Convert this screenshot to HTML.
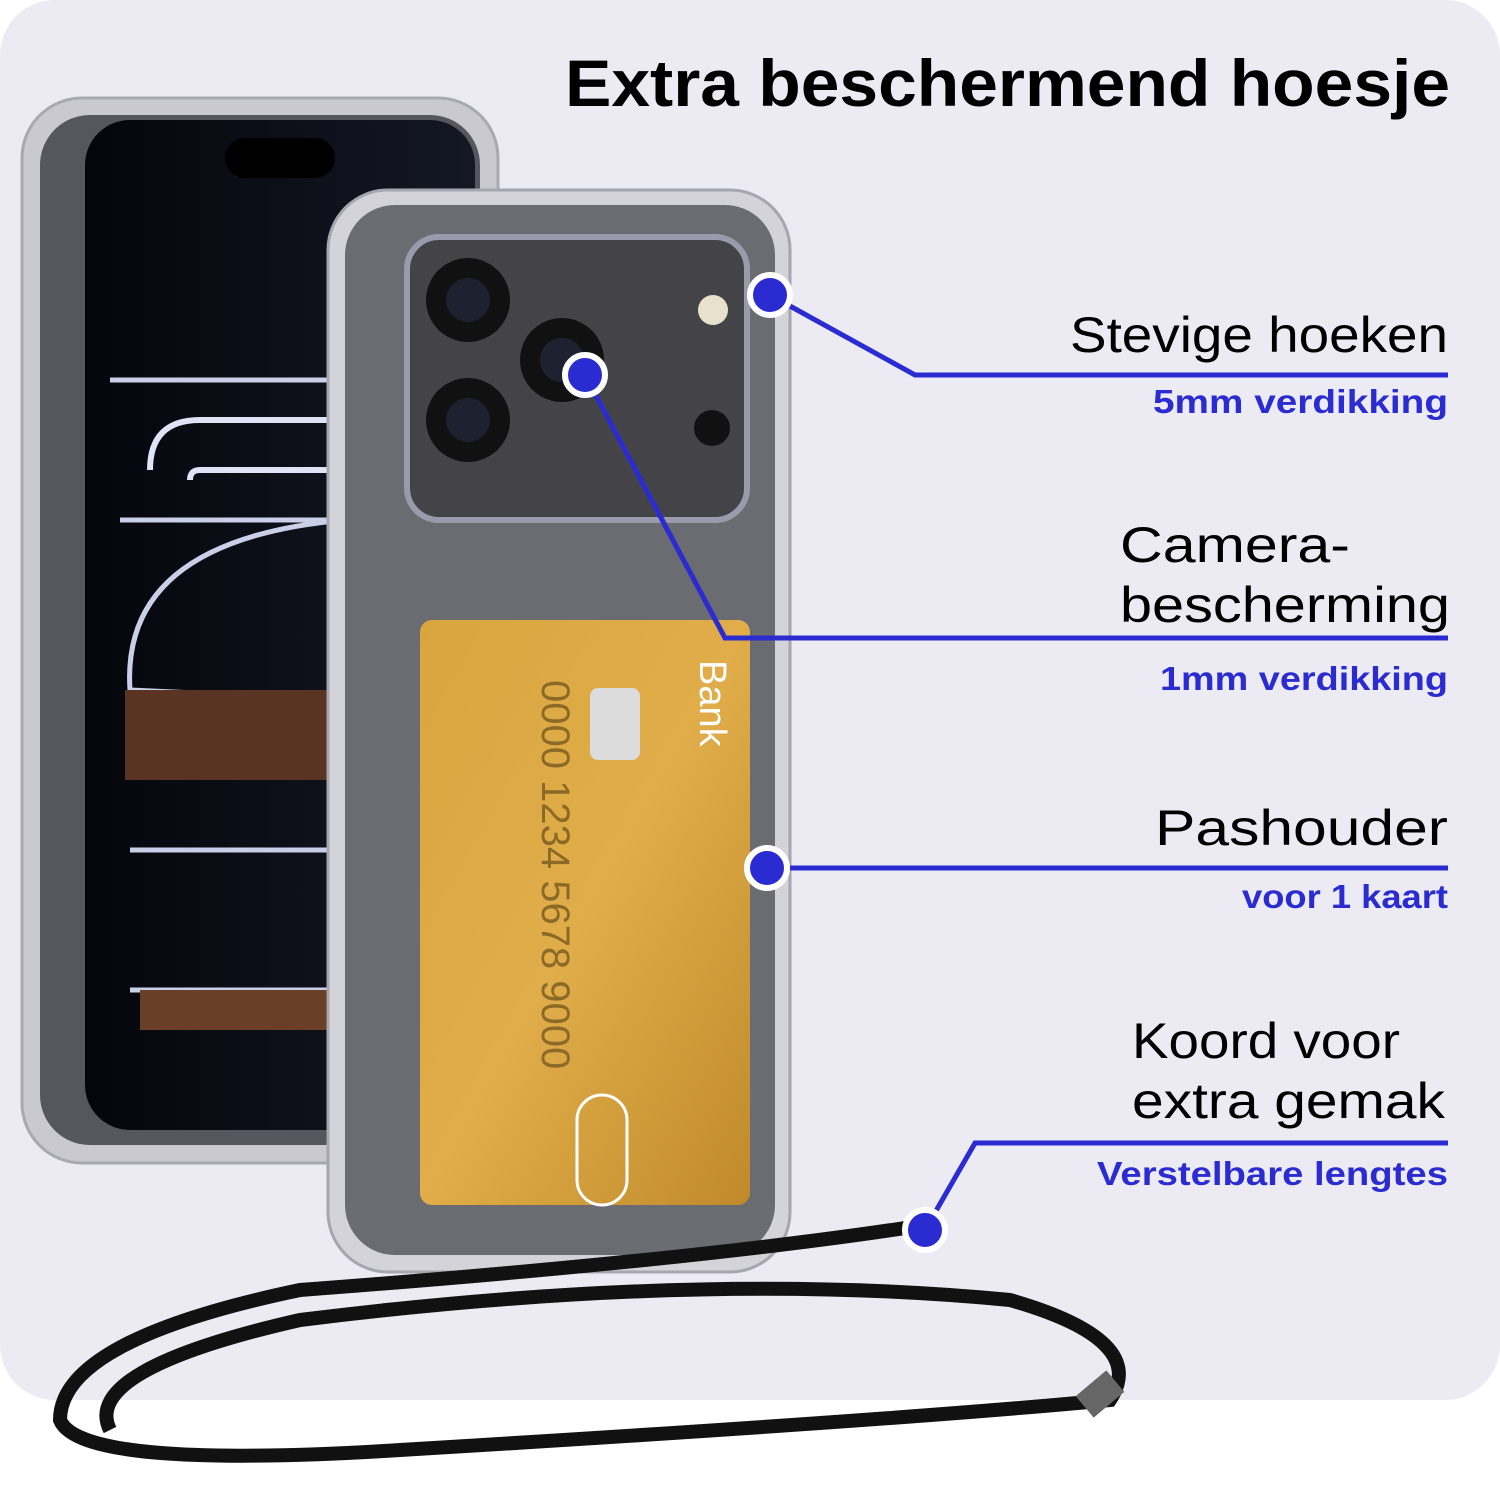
<!DOCTYPE html>
<html><head><meta charset="utf-8"><style>
html,body{margin:0;padding:0;background:#fff}
svg{display:block}
text{font-family:"Liberation Sans",sans-serif}
</style></head><body>
<svg width="1500" height="1500" viewBox="0 0 1500 1500" xmlns="http://www.w3.org/2000/svg">
<defs>
<linearGradient id="gold" x1="0" y1="0" x2="1" y2="1"><stop offset="0" stop-color="#d9a53e"/><stop offset="0.5" stop-color="#e0ad4a"/><stop offset="1" stop-color="#c08a2a"/></linearGradient>
<linearGradient id="scr" x1="0" y1="0" x2="1" y2="0"><stop offset="0" stop-color="#05060c"/><stop offset="1" stop-color="#141824"/></linearGradient>
</defs>
<rect x="0" y="0" width="1500" height="1400" rx="55" fill="#ecebf3"/>
<text x="565" y="106" textLength="885" lengthAdjust="spacingAndGlyphs" font-size="66" font-weight="bold" fill="#000">Extra beschermend hoesje</text>

<!-- left phone -->
<rect x="22" y="98" width="476" height="1065" rx="60" fill="#c9c9cf" stroke="#a9a9b2" stroke-width="3"/>
<rect x="40" y="115" width="440" height="1030" rx="50" fill="#55565e"/>
<rect x="85" y="120" width="390" height="1010" rx="45" fill="url(#scr)"/>
<path d="M150 470 Q150 420 200 420 L345 420 L345 470 L200 470 Q190 470 190 480" fill="none" stroke="#dfe3f5" stroke-width="6"/>
<path d="M110 380 L345 380 M120 520 L345 520 Q120 540 130 690 L345 700" fill="none" stroke="#c9cfe6" stroke-width="5"/>
<rect x="125" y="690" width="220" height="90" fill="#5a3422"/>
<path d="M130 850 L345 850 M130 990 L345 990" fill="none" stroke="#c9cfe6" stroke-width="5"/>
<rect x="140" y="990" width="205" height="40" fill="#6a3f28"/>
<rect x="225" y="138" width="110" height="40" rx="20" fill="#000"/>

<!-- right phone -->
<rect x="328" y="190" width="462" height="1082" rx="60" fill="#d3d3d9" stroke="#a6a6b0" stroke-width="3"/>
<rect x="345" y="205" width="430" height="1050" rx="50" fill="#6b6b72"/>
<rect x="407" y="237" width="340" height="283" rx="32" fill="#444448" stroke="#9a9aac" stroke-width="6"/>
<circle cx="468" cy="300" r="42" fill="#111"/><circle cx="468" cy="300" r="22" fill="#1e2230"/>
<circle cx="468" cy="420" r="42" fill="#111"/><circle cx="468" cy="420" r="22" fill="#1e2230"/>
<circle cx="562" cy="360" r="42" fill="#111"/><circle cx="562" cy="360" r="22" fill="#1e2230"/>
<circle cx="713" cy="310" r="15" fill="#e8e2cc"/>
<circle cx="712" cy="428" r="18" fill="#111"/>
<rect x="420" y="620" width="330" height="585" rx="12" fill="url(#gold)"/>
<rect x="590" y="688" width="50" height="72" rx="8" fill="#dcdcdc"/>
<text x="700" y="660" font-size="38" fill="#fff" transform="rotate(90 700 660)">Bank</text>
<text x="542" y="680" font-size="40" fill="#8a6a26" transform="rotate(90 542 680)">0000 1234 5678 9000</text>
<rect x="577" y="1095" width="50" height="110" rx="25" fill="none" stroke="#fff" stroke-width="3"/>

<!-- cord -->
<path d="M925 1225 Q700 1260 300 1290 Q60 1340 60 1420 Q80 1470 400 1450 Q900 1420 1110 1400 Q1150 1340 1010 1300 Q700 1270 300 1320 Q80 1370 110 1430" fill="none" stroke="#111" stroke-width="14"/>
<rect x="1080" y="1380" width="40" height="28" fill="#666" transform="rotate(-40 1100 1394)"/>

<!-- connectors -->
<g stroke="#2b2bd2" stroke-width="5" fill="none">
<polyline points="770,295 915,375 1448,375"/>
<polyline points="585,375 725,638 1448,638"/>
<polyline points="767,868 1448,868"/>
<polyline points="925,1230 975,1143 1448,1143"/>
</g>
<g fill="#2b2bd2" stroke="#fff" stroke-width="6">
<circle cx="770" cy="295" r="20"/><circle cx="585" cy="375" r="20"/>
<circle cx="767" cy="868" r="20"/><circle cx="925" cy="1230" r="20"/>
</g>

<g font-size="50" fill="#000" lengthAdjust="spacingAndGlyphs">
<text x="1070" y="352" textLength="378" lengthAdjust="spacingAndGlyphs">Stevige hoeken</text>
<text x="1120" y="562" textLength="230" lengthAdjust="spacingAndGlyphs">Camera-</text>
<text x="1120" y="622" textLength="330" lengthAdjust="spacingAndGlyphs">bescherming</text>
<text x="1155" y="845" textLength="293" lengthAdjust="spacingAndGlyphs">Pashouder</text>
<text x="1132" y="1058" textLength="268" lengthAdjust="spacingAndGlyphs">Koord voor</text>
<text x="1132" y="1118" textLength="313" lengthAdjust="spacingAndGlyphs">extra gemak</text>
</g>
<g font-size="33" font-weight="bold" fill="#2b2bd2">
<text x="1153" y="413" textLength="295" lengthAdjust="spacingAndGlyphs">5mm verdikking</text>
<text x="1160" y="690" textLength="288" lengthAdjust="spacingAndGlyphs">1mm verdikking</text>
<text x="1242" y="908" textLength="206" lengthAdjust="spacingAndGlyphs">voor 1 kaart</text>
<text x="1097" y="1185" textLength="351" lengthAdjust="spacingAndGlyphs">Verstelbare lengtes</text>
</g>
</svg>
</body></html>
